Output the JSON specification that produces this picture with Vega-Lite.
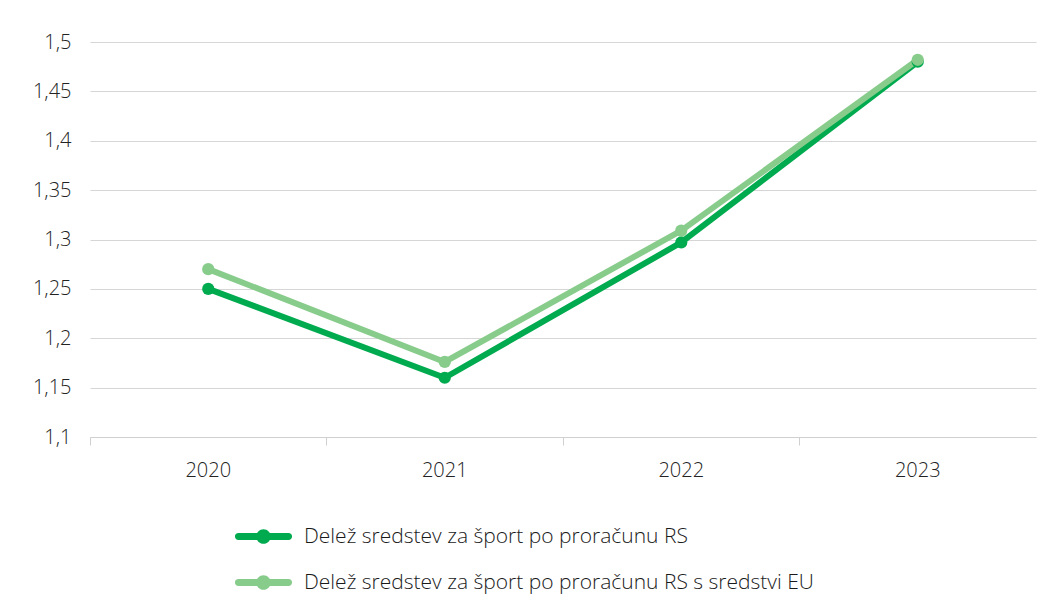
{
  "$schema": "https://vega.github.io/schema/vega-lite/v6.json",
  "width": 946,
  "height": 395,
  "autosize": {"type": "none"},
  "padding": {"left": 90, "top": 42, "right": 21, "bottom": 179},
  "background": "white",
  "config": {
    "font": "Open Sans",
    "view": {"stroke": null}
  },
  "data": {
    "values": [
      {"year": "2020", "series": "Delež sredstev za šport po proračunu RS", "value": 1.25},
      {"year": "2021", "series": "Delež sredstev za šport po proračunu RS", "value": 1.16},
      {"year": "2022", "series": "Delež sredstev za šport po proračunu RS", "value": 1.297},
      {"year": "2023", "series": "Delež sredstev za šport po proračunu RS", "value": 1.48},
      {"year": "2020", "series": "Delež sredstev za šport po proračunu RS s sredstvi EU", "value": 1.27},
      {"year": "2021", "series": "Delež sredstev za šport po proračunu RS s sredstvi EU", "value": 1.176},
      {"year": "2022", "series": "Delež sredstev za šport po proračunu RS s sredstvi EU", "value": 1.309},
      {"year": "2023", "series": "Delež sredstev za šport po proračunu RS s sredstvi EU", "value": 1.482}
    ]
  },
  "encoding": {
    "x": {
      "field": "year", "type": "ordinal", "title": null,
      "scale": {"type": "band", "paddingInner": 0, "paddingOuter": 0},
      "axis": {
        "labelAngle": 0, "labelFontSize": 20, "labelColor": "#222222", "labelFontWeight": 300,
        "domainColor": "#d0d0d0", "tickColor": "#d0d0d0", "tickSize": 8, "bandPosition": 0,
        "labelPadding": 15, "grid": false
      }
    },
    "y": {
      "field": "value", "type": "quantitative", "title": null,
      "scale": {"domain": [1.1, 1.5], "nice": false, "zero": false},
      "axis": {
        "values": [1.1, 1.15, 1.2, 1.25, 1.3, 1.35, 1.4, 1.45, 1.5],
        "labelExpr": "replace(format(datum.value, '.2~f'), '.', ',')",
        "labelFontSize": 20, "labelColor": "#222222", "labelFontWeight": 300,
        "domain": false, "ticks": false, "labelPadding": 19,
        "gridColor": "#d6d6d6", "gridWidth": 1
      }
    },
    "color": {
      "field": "series", "type": "nominal", "title": null,
      "scale": {
        "domain": ["Delež sredstev za šport po proračunu RS", "Delež sredstev za šport po proračunu RS s sredstvi EU"],
        "range": ["#00aa4f", "#88cc8c"]
      },
      "legend": {
        "orient": "none", "legendX": 156, "legendY": 477, "direction": "vertical",
        "padding": 0, "rowPadding": 18,
        "symbolType": "M-1.45,-0.2 L1.45,-0.2 A0.2,0.2 0 0 1 1.45,0.2 L-1.45,0.2 A0.2,0.2 0 0 1 -1.45,-0.2 Z M-0.42,0 A0.42,0.42 0 1 1 0.42,0 A0.42,0.42 0 1 1 -0.42,0 Z",
        "symbolSize": 1200, "symbolStrokeWidth": 0, "symbolOpacity": 1,
        "labelFontSize": 21, "labelFontWeight": 300, "labelColor": "#1a1a1a",
        "labelOffset": 23, "labelLimit": 800
      }
    }
  },
  "layer": [
    {"mark": {"type": "line", "strokeWidth": 6, "strokeCap": "round", "strokeJoin": "round"}},
    {"mark": {"type": "circle", "size": 150, "opacity": 1}}
  ]
}
